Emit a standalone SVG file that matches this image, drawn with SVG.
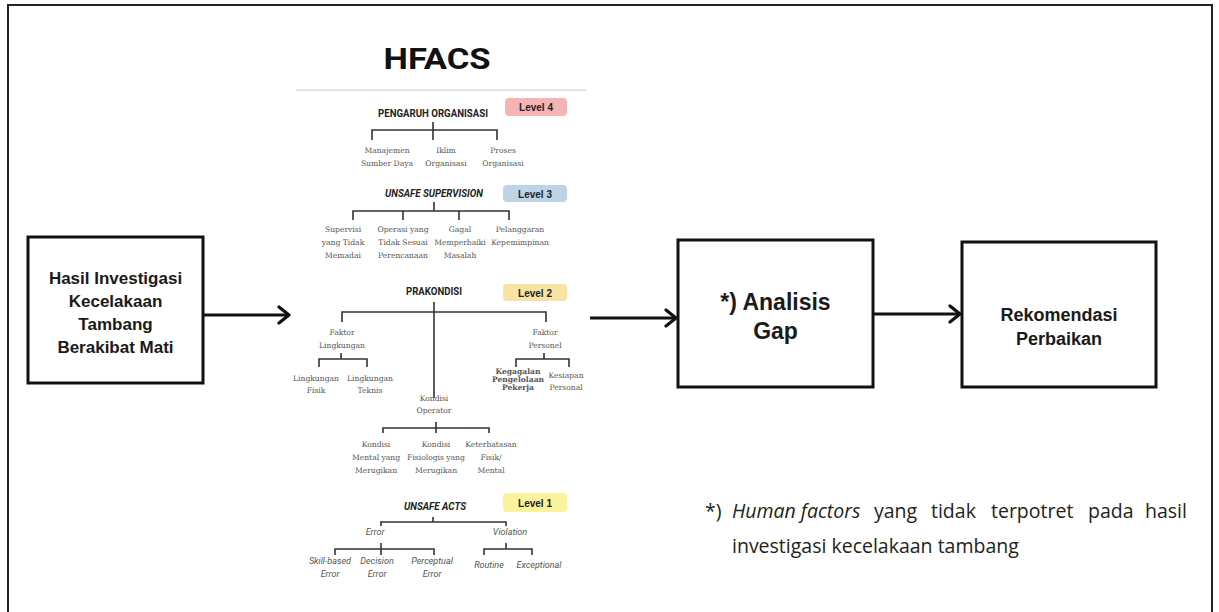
<svg xmlns="http://www.w3.org/2000/svg" width="1219" height="612" viewBox="0 0 1219 612">
<defs>
<marker id="chev" markerUnits="userSpaceOnUse" markerWidth="16" markerHeight="20" refX="12" refY="10" orient="auto" viewBox="0 0 16 20">
<path d="M2,2 L12,10 L2,18" fill="none" stroke="#111" stroke-width="3.2" stroke-linecap="round" stroke-linejoin="round"/>
</marker>
</defs>
<style>
.box{fill:#fff;stroke:#111;stroke-width:3}
.bt{font-family:"Liberation Sans",Arial,sans-serif;font-weight:bold;fill:#1a1a1a;text-anchor:middle}
.conn{stroke:#111;stroke-width:3.2;fill:none}
.br{stroke:#333;stroke-width:1.6;fill:none}
.hd{font-family:Roboto,"Liberation Sans",sans-serif;font-weight:bold;font-size:10px;fill:#222;text-anchor:middle}
.sl{font-family:"DejaVu Serif","Liberation Serif",serif;font-size:7.6px;fill:#555;text-anchor:middle}
.it{font-family:Roboto,"Liberation Sans",sans-serif;font-style:italic;font-size:9px;fill:#555;text-anchor:middle}
.lv{font-family:"Liberation Sans",Arial,sans-serif;font-weight:bold;font-size:10px;fill:#222;text-anchor:middle}
.fn{font-family:"Open Sans","Noto Sans",sans-serif;font-size:19.5px;fill:#222}
</style>
<rect x="8" y="5" width="1204" height="625" fill="#fff" stroke="#222" stroke-width="2"/>

<g id="node-hasil">
<rect class="box" x="28" y="237" width="175" height="146"/>
<text class="bt" font-size="17" x="115.5" y="284">Hasil Investigasi</text>
<text class="bt" font-size="17" x="115.5" y="307">Kecelakaan</text>
<text class="bt" font-size="17" x="115.5" y="330">Tambang</text>
<text class="bt" font-size="17" x="115.5" y="353">Berakibat Mati</text>
</g>

<g id="node-analisis">
<rect class="box" x="678" y="240" width="195" height="147"/>
<text class="bt" font-size="23" x="775.5" y="310">*) Analisis</text>
<text class="bt" font-size="23" x="775.5" y="339">Gap</text>
</g>

<g id="node-rekomendasi">
<rect class="box" x="962" y="242" width="194" height="145"/>
<text class="bt" font-size="18" x="1059" y="321">Rekomendasi</text>
<text class="bt" font-size="18" x="1059" y="345">Perbaikan</text>
</g>

<g id="connectors">
<line class="conn" x1="203" y1="315" x2="289" y2="315" marker-end="url(#chev)"/>
<line class="conn" x1="590" y1="318" x2="676" y2="318" marker-end="url(#chev)"/>
<line class="conn" x1="873" y1="314" x2="960" y2="314" marker-end="url(#chev)"/>
</g>

<g id="node-hfacs">
<text x="437" y="69" font-family="Roboto,'Liberation Sans',sans-serif" font-weight="bold" font-size="30" fill="#111" text-anchor="middle" textLength="107" lengthAdjust="spacingAndGlyphs">HFACS</text>
<line x1="296" y1="90" x2="586" y2="90" stroke="#e2e2e2" stroke-width="2"/>

<!-- Level 4 -->
<rect x="505" y="98" width="62" height="18" rx="4" fill="#f5b5b5"/>
<text class="lv" x="536" y="111">Level 4</text>
<text class="hd" x="433" y="117" textLength="110" lengthAdjust="spacingAndGlyphs">PENGARUH ORGANISASI</text>
<path class="br" d="M433,122 V140 M372,140 V130 H497 V140"/>
<text class="sl"><tspan x="387" y="153">Manajemen</tspan><tspan x="387" y="166">Sumber Daya</tspan></text>
<text class="sl"><tspan x="446" y="153">Iklim</tspan><tspan x="446" y="166">Organisasi</tspan></text>
<text class="sl"><tspan x="503" y="153">Proses</tspan><tspan x="503" y="166">Organisasi</tspan></text>

<!-- Level 3 -->
<rect x="503" y="185" width="64" height="17" rx="4" fill="#bcd3ea"/>
<text class="lv" x="535" y="197.5">Level 3</text>
<text class="hd" x="434" y="197" font-style="italic" textLength="98" lengthAdjust="spacingAndGlyphs">UNSAFE SUPERVISION</text>
<path class="br" d="M434,202 V211 M353,220 V211 H509 V220 M403,211 V220 M459,211 V220"/>
<text class="sl"><tspan x="343" y="232">Supervisi</tspan><tspan x="343" y="245">yang Tidak</tspan><tspan x="343" y="258">Memadai</tspan></text>
<text class="sl"><tspan x="403" y="232">Operasi yang</tspan><tspan x="403" y="245">Tidak Sesuai</tspan><tspan x="403" y="258">Perencanaan</tspan></text>
<text class="sl"><tspan x="460" y="232">Gagal</tspan><tspan x="460" y="245">Memperbaiki</tspan><tspan x="460" y="258">Masalah</tspan></text>
<text class="sl"><tspan x="520" y="232">Pelanggaran</tspan><tspan x="520" y="245">Kepemimpinan</tspan></text>

<!-- Level 2 -->
<rect x="503" y="284" width="64" height="17" rx="4" fill="#f9e3a3"/>
<text class="lv" x="535" y="296.5">Level 2</text>
<text class="hd" x="434" y="295" textLength="56" lengthAdjust="spacingAndGlyphs">PRAKONDISI</text>
<path class="br" d="M434,302 V398 M342,322 V312 H546 V322"/>
<text class="sl"><tspan x="342" y="335">Faktor</tspan><tspan x="342" y="348">Lingkungan</tspan></text>
<path class="br" d="M341,353 V359 M319,367 V359 H367 V367"/>
<text class="sl"><tspan x="316" y="381">Lingkungan</tspan><tspan x="316" y="393">Fisik</tspan></text>
<text class="sl"><tspan x="370" y="381">Lingkungan</tspan><tspan x="370" y="393">Teknis</tspan></text>
<text class="sl"><tspan x="545" y="335">Faktor</tspan><tspan x="545" y="348">Personel</tspan></text>
<path class="br" d="M544,353 V359 M516,367 V359 H569 V367"/>
<text class="sl" font-size="5.2" font-weight="bold" fill="#333"><tspan x="518" y="374">Kegagalan</tspan><tspan x="518" y="382">Pengelolaan</tspan><tspan x="518" y="390">Pekerja</tspan></text>
<text class="sl"><tspan x="566" y="378">Kesiapan</tspan><tspan x="566" y="390">Personal</tspan></text>
<text class="sl"><tspan x="434" y="401">Kondisi</tspan><tspan x="434" y="413">Operator</tspan></text>
<path class="br" d="M436,422 V433 M383,433 V428 H489 V433"/>
<text class="sl"><tspan x="376" y="447">Kondisi</tspan><tspan x="376" y="460">Mental yang</tspan><tspan x="376" y="473">Merugikan</tspan></text>
<text class="sl"><tspan x="436" y="447">Kondisi</tspan><tspan x="436" y="460">Fisiologis yang</tspan><tspan x="436" y="473">Merugikan</tspan></text>
<text class="sl"><tspan x="491" y="447">Keterbatasan</tspan><tspan x="491" y="460">Fisik/</tspan><tspan x="491" y="473">Mental</tspan></text>

<!-- Level 1 -->
<rect x="503" y="493" width="64" height="19" rx="4" fill="#fbf29c"/>
<text class="lv" x="535" y="506.5">Level 1</text>
<text class="hd" x="435" y="510" font-style="italic" textLength="62" lengthAdjust="spacingAndGlyphs">UNSAFE ACTS</text>
<path class="br" d="M433,517 V522 M381,526 V522 H506 V526"/>
<text class="it" x="375" y="535">Error</text>
<text class="it" x="510" y="535">Violation</text>
<path class="br" d="M381,543 V555 M335,555 V549 H434 V555 M506,543 V549 M484,555 V549 H532 V555"/>
<text class="it"><tspan x="330" y="564">Skill-based</tspan><tspan x="330" y="577">Error</tspan></text>
<text class="it"><tspan x="377" y="564">Decision</tspan><tspan x="377" y="577">Error</tspan></text>
<text class="it"><tspan x="432" y="564">Perceptual</tspan><tspan x="432" y="577">Error</tspan></text>
<text class="it" x="489" y="568">Routine</text>
<text class="it" x="539" y="568">Exceptional</text>
</g>

<g id="footnote">
<text class="fn" y="518"><tspan x="705">*)</tspan><tspan x="732" font-style="italic">Human factors</tspan><tspan x="874">yang</tspan><tspan x="931">tidak</tspan><tspan x="991">terpotret</tspan><tspan x="1088">pada</tspan><tspan x="1145">hasil</tspan></text>
<text class="fn" x="732" y="553">investigasi kecelakaan tambang</text>
</g>
</svg>
